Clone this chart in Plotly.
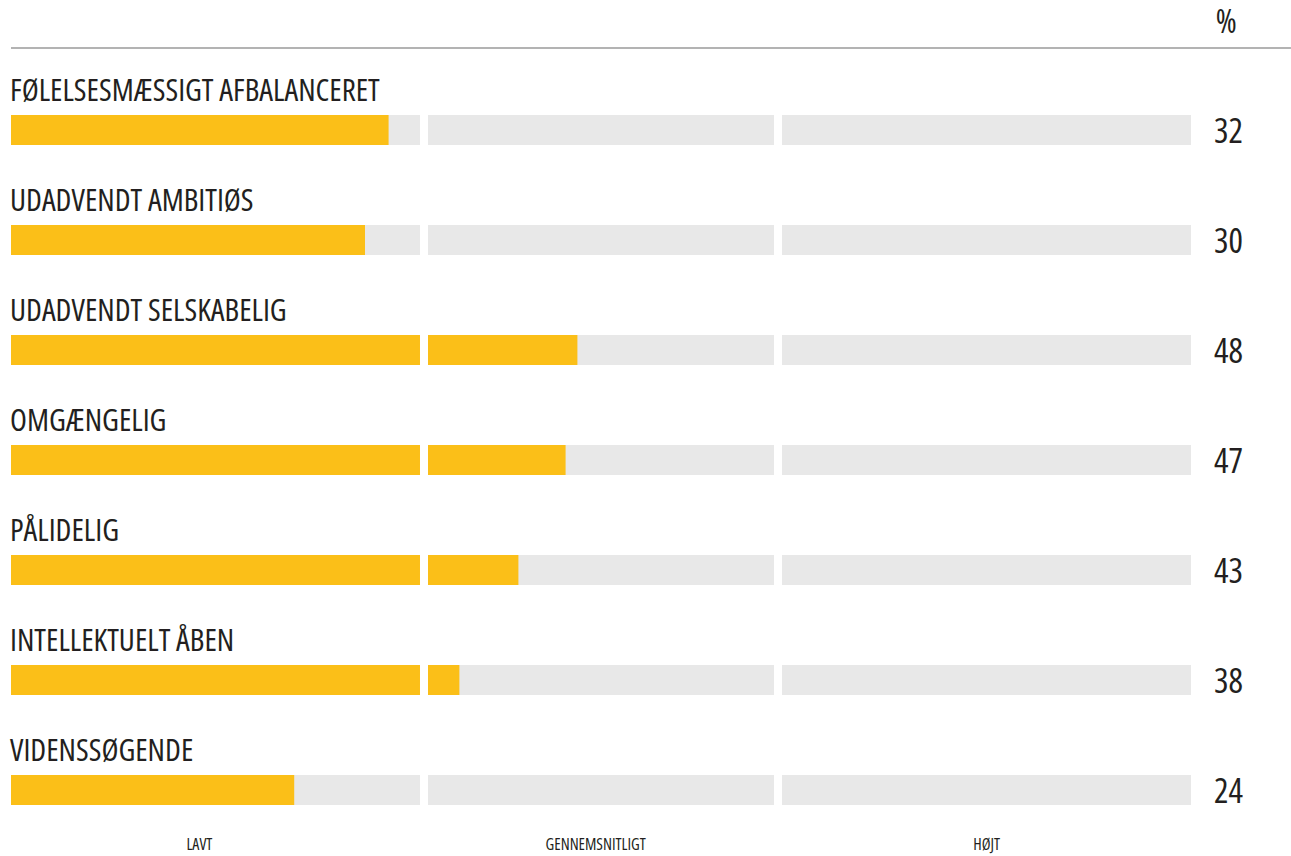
import plotly.graph_objects as go

categories = [
    "FØLELSESMÆSSIGT AFBALANCERET",
    "UDADVENDT AMBITIØS",
    "UDADVENDT SELSKABELIG",
    "OMGÆNGELIG",
    "PÅLIDELIG",
    "INTELLEKTUELT ÅBEN",
    "VIDENSSØGENDE",
]
values = [32, 30, 48, 47, 43, 38, 24]
segment_names = ["LAVT", "GENNEMSNITLIGT", "HØJT"]
segment_bounds = [0, 35, 65, 100]
segment_label_pos = [16, 49.5, 82.7]
unit_label = "%"

YELLOW = "#FBBF18"
GRAY = "#E8E8E8"
TEXT = "#231F20"
FONT = "Open Sans, Roboto, DejaVu Sans, sans-serif"
HALF_GAP = 0.34

fig = go.Figure()
rows = list(range(len(categories)))

for k in range(len(segment_names)):
    s0 = segment_bounds[k] + (HALF_GAP if k > 0 else 0)
    s1 = segment_bounds[k + 1] - (HALF_GAP if k < len(segment_names) - 1 else 0)
    # gray background segment
    fig.add_trace(go.Bar(
        y=rows, x=[s1 - s0] * len(rows), base=[s0] * len(rows),
        orientation="h", marker=dict(color=GRAY, line=dict(width=0)),
        width=0.2727, hoverinfo="skip", showlegend=False,
    ))
    # yellow filled part of the segment
    fills = [max(0, min(v, s1) - s0) for v in values]
    fig.add_trace(go.Bar(
        y=rows, x=fills, base=[s0] * len(rows),
        orientation="h", marker=dict(color=YELLOW, line=dict(width=0)),
        width=0.2727, showlegend=False,
        hovertemplate="%{customdata}<extra></extra>",
        customdata=[f"{c}: {v}%" for c, v in zip(categories, values)],
    ))

annotations = []
for i, (c, v) in enumerate(zip(categories, values)):
    annotations.append(dict(
        x=0, y=i - 0.3636, xref="x", yref="y", text=c, showarrow=False,
        xanchor="left", yanchor="middle", align="left", xshift=-3, yshift=1,
        font=dict(family=FONT, size=31, color=TEXT),
    ))
    annotations.append(dict(
        x=1.0322, y=i, xref="paper", yref="y", text=str(v), showarrow=False,
        xanchor="center", yanchor="middle", align="center",
        font=dict(family=FONT, size=34, color=TEXT),
    ))

for name, pos in zip(segment_names, segment_label_pos):
    annotations.append(dict(
        x=pos, y=-0.031, xref="x", yref="paper", text=name, showarrow=False,
        xanchor="center", yanchor="middle", align="center",
        font=dict(family=FONT, size=16, color=TEXT),
    ))

annotations.append(dict(
    x=1.0297, y=1.035, xref="paper", yref="paper", text=unit_label,
    showarrow=False, xanchor="center", yanchor="middle", align="center",
    font=dict(family=FONT, size=32, color=TEXT),
))

fig.update_layout(
    width=1291, height=856,
    margin=dict(l=11, r=100, t=48, b=36),
    paper_bgcolor="white", plot_bgcolor="white",
    barmode="overlay",
    xaxis=dict(range=[0, 100], visible=False, fixedrange=True),
    yaxis=dict(range=[6.2727, -0.7455], visible=False, fixedrange=True),
    annotations=annotations,
    shapes=[dict(
        type="line", xref="paper", yref="paper",
        x0=0, x1=1.0847, y0=1, y1=1,
        line=dict(color="#9A9A9A", width=1.5),
    )],
)

post = """
document.body.style.margin='0';
document.querySelectorAll('.annotation-text').forEach(function(t){t.style.fontStretch='condensed';});
"""
fig.write_html("out.html", post_script=post, config={"displayModeBar": False})
